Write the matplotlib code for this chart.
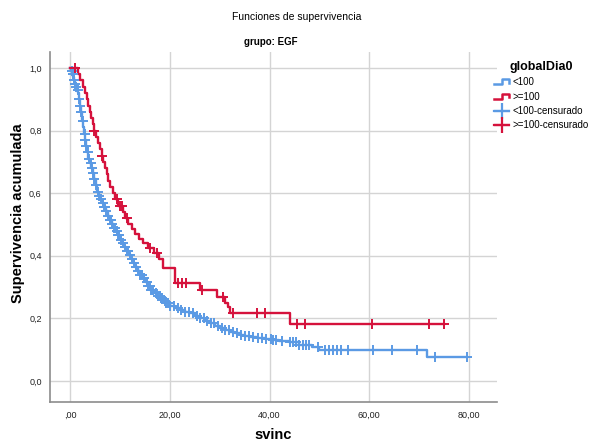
import numpy as np
import matplotlib
matplotlib.use("Agg")
import matplotlib.pyplot as plt
from matplotlib.lines import Line2D
from matplotlib.legend_handler import HandlerBase

plt.rcParams['font.family'] = ['Liberation Sans', 'DejaVu Sans']

# Kaplan-Meier steps (time, survival after the step)
red_t = [0.0, 1.5, 2.0, 2.5, 3.0, 3.3, 3.6, 3.9, 4.2, 4.5, 4.7, 5.2, 5.6, 6.0,
         6.3, 6.6, 7.0, 7.3, 7.6, 8.0, 8.5, 9.0, 9.6, 10.5, 11.0, 11.6, 12.3,
         13.0, 13.8, 14.5, 15.5, 16.8, 17.8, 18.6, 21.0, 26.0, 29.4, 31.0,
         31.6, 32.1, 44.1]
red_s = [1.0, 0.98, 0.96, 0.94, 0.92, 0.90, 0.88, 0.86, 0.84, 0.82, 0.80,
         0.78, 0.76, 0.74, 0.72, 0.70, 0.68, 0.66, 0.64, 0.62, 0.60, 0.58,
         0.56, 0.54, 0.52, 0.50, 0.485, 0.47, 0.455, 0.44, 0.425, 0.41, 0.39,
         0.361, 0.313, 0.291, 0.268, 0.250, 0.236, 0.217, 0.182]
red_cens = [0.9, 4.7, 6.3, 9.3, 10.0, 10.4, 11.4, 16.0, 17.4, 21.6, 22.4,
            23.2, 26.4, 30.6, 32.7, 37.5, 39.1, 45.5, 47.1, 60.6, 72.1, 75.1]

blue_t = [0.0, 0.2, 0.4, 0.6, 0.8, 1.0, 1.2, 1.4, 1.6, 1.8, 2.0, 2.2, 2.4,
          2.6, 2.8, 3.0, 3.2, 3.4, 3.6, 3.9, 4.2, 4.5, 4.8, 5.1, 5.4, 5.7,
          6.0, 6.4, 6.8, 7.2, 7.6, 7.9, 8.3, 8.7, 9.1, 9.5, 10.0, 10.4, 10.8,
          11.2, 11.7, 12.1, 12.6, 13.0, 13.5, 14.0, 14.5, 15.0, 15.5, 16.0,
          16.7, 17.4, 18.0, 18.7, 19.3, 20.0, 21.0, 22.0, 23.0, 24.0, 25.0,
          26.0, 27.0, 28.0, 29.0, 30.0, 31.0, 32.0, 33.0, 34.0, 35.0, 36.0,
          37.5, 39.0, 40.5, 42.0, 44.0, 46.0, 48.5, 50.0, 71.7]
blue_s = [1.0, 0.99, 0.98, 0.97, 0.96, 0.95, 0.94, 0.93, 0.92, 0.90, 0.88,
          0.86, 0.83, 0.81, 0.79, 0.77, 0.75, 0.73, 0.71, 0.695, 0.68, 0.665,
          0.645, 0.625, 0.605, 0.59, 0.58, 0.568, 0.555, 0.542, 0.528, 0.514,
          0.502, 0.49, 0.478, 0.466, 0.452, 0.44, 0.428, 0.416, 0.402, 0.39,
          0.377, 0.364, 0.352, 0.34, 0.33, 0.316, 0.303, 0.29, 0.281, 0.272,
          0.265, 0.256, 0.248, 0.24, 0.234, 0.228, 0.222, 0.217, 0.208, 0.20,
          0.192, 0.185, 0.177, 0.17, 0.163, 0.157, 0.152, 0.148, 0.144, 0.141,
          0.137, 0.134, 0.131, 0.128, 0.125, 0.115, 0.108, 0.099, 0.077]
blue_cens = [0.3, 0.5, 0.8, 1.0, 1.2, 1.5, 1.8, 2.0, 2.2, 2.5, 2.9, 3.0, 3.2,
             3.5, 3.7, 4.1, 4.3, 4.6, 4.8, 5.2, 5.5, 5.8, 6.2, 6.5, 6.8, 7.0,
             7.2, 7.6, 7.9, 8.1, 8.3, 8.7, 9.0, 9.3, 9.5, 9.8, 10.2, 10.6,
             10.9, 11.3, 11.6, 11.9, 12.4, 12.8, 13.2, 13.5, 14.0, 14.4, 14.8,
             15.3, 15.6, 15.9, 16.2, 16.6, 17.2, 17.6, 17.9, 18.2, 18.5, 19.0,
             19.3, 19.7, 20.1, 20.8, 21.6, 22.3, 23.1, 23.9, 24.6, 25.4, 26.1,
             26.9, 27.5, 28.2, 28.8, 29.6, 30.4, 31.1, 31.8, 32.6, 33.5, 34.3,
             35.0, 35.8, 36.7, 37.6, 38.5, 39.3, 40.2, 40.8, 41.4, 42.6, 44.2,
             44.8, 45.4, 46.0, 46.8, 47.4, 48.0, 49.7, 51.2, 52.0, 52.8, 53.6,
             54.4, 55.8, 60.8, 64.6, 69.6, 73.3, 79.7]

x_ticks = [0, 20, 40, 60, 80]
x_labels = [',00', '20,00', '40,00', '60,00', '80,00']
y_ticks = [0.0, 0.2, 0.4, 0.6, 0.8, 1.0]
y_labels = ['0,0', '0,2', '0,4', '0,6', '0,8', '1,0']

BLUE = '#5b9ae4'
RED = '#d5123c'


def surv_at(t_steps, s_steps, times):
    idx = np.searchsorted(t_steps, times, side='right') - 1
    return np.array(s_steps)[idx]


class StepHandler(HandlerBase):
    def create_artists(self, legend, orig_handle, xdescent, ydescent,
                       width, height, fontsize, trans):
        x = np.array([0, 0.55, 0.55, 1.0, 1.0]) * width - xdescent
        y = np.array([0.15, 0.15, 0.85, 0.85, 0.35]) * height - ydescent
        ln = Line2D(x, y, color=orig_handle.get_color(), lw=1.8,
                    transform=trans)
        return [ln]


fig = plt.figure(figsize=(5.93, 4.47), dpi=100)
ax = fig.add_axes([0.0843, 0.1007, 0.7538, 0.7830])

for t, s, cens, col in [(blue_t, blue_s, blue_cens, BLUE),
                        (red_t, red_s, red_cens, RED)]:
    tt = list(t) + [cens[-1]]
    ss = list(s) + [s[-1]]
    ax.step(tt, ss, where='post', color=col, lw=1.7, zorder=3)
    ax.plot(cens, surv_at(t, s, cens), ls='none', marker='+', ms=7,
            mew=1.4, color=col, zorder=4)

ax.set_xlim(-4.1, 85.7)
ax.set_ylim(-0.067, 1.051)
ax.set_xticks(x_ticks)
ax.set_xticklabels(x_labels)
ax.set_yticks(y_ticks)
ax.set_yticklabels(y_labels)
ax.tick_params(length=0, labelsize=6.5, colors='#222222', pad=6)
ax.grid(True, color='#d4d4d4', lw=1)
ax.set_axisbelow(True)
for side in ['top', 'right']:
    ax.spines[side].set_visible(False)
for side in ['left', 'bottom']:
    ax.spines[side].set_color('#8c8c8c')
    ax.spines[side].set_linewidth(1.2)

fig.text(273 / 593, 1 - 435 / 447, 'svinc', ha='center', va='center',
         fontsize=10.5, fontweight='bold')
fig.text(18 / 593, 1 - 213 / 447, 'Supervivencia acumulada', ha='center',
         va='center', rotation=90, fontsize=10.5, fontweight='bold')

fig.text(297 / 593, 1 - 17 / 447, 'Funciones de supervivencia', ha='center',
         va='center', fontsize=7.5)
fig.text(271 / 593, 1 - 42 / 447, 'grupo: EGF', ha='center', va='center',
         fontsize=7, fontweight='bold')

h1 = Line2D([], [], color=BLUE)
h2 = Line2D([], [], color=RED)
h3 = Line2D([], [], color=BLUE, marker='+', ms=11, mew=1.6, lw=1.6)
h4 = Line2D([], [], color=RED, marker='+', ms=11, mew=1.6, lw=1.6)
leg = fig.legend([h1, h2, h3, h4],
                 ['<100', '>=100', '<100-censurado', '>=100-censurado'],
                 handler_map={h1: StepHandler(), h2: StepHandler()},
                 loc='upper left', bbox_to_anchor=(487 / 593, 1 - 54 / 447),
                 frameon=False, fontsize=7, title='globalDia0',
                 handlelength=1.6, handletextpad=0.3, labelspacing=0.45,
                 borderpad=0.2)
leg.get_title().set_fontweight('bold')
leg.get_title().set_fontsize(9)

fig.savefig('out.png', dpi=100)
